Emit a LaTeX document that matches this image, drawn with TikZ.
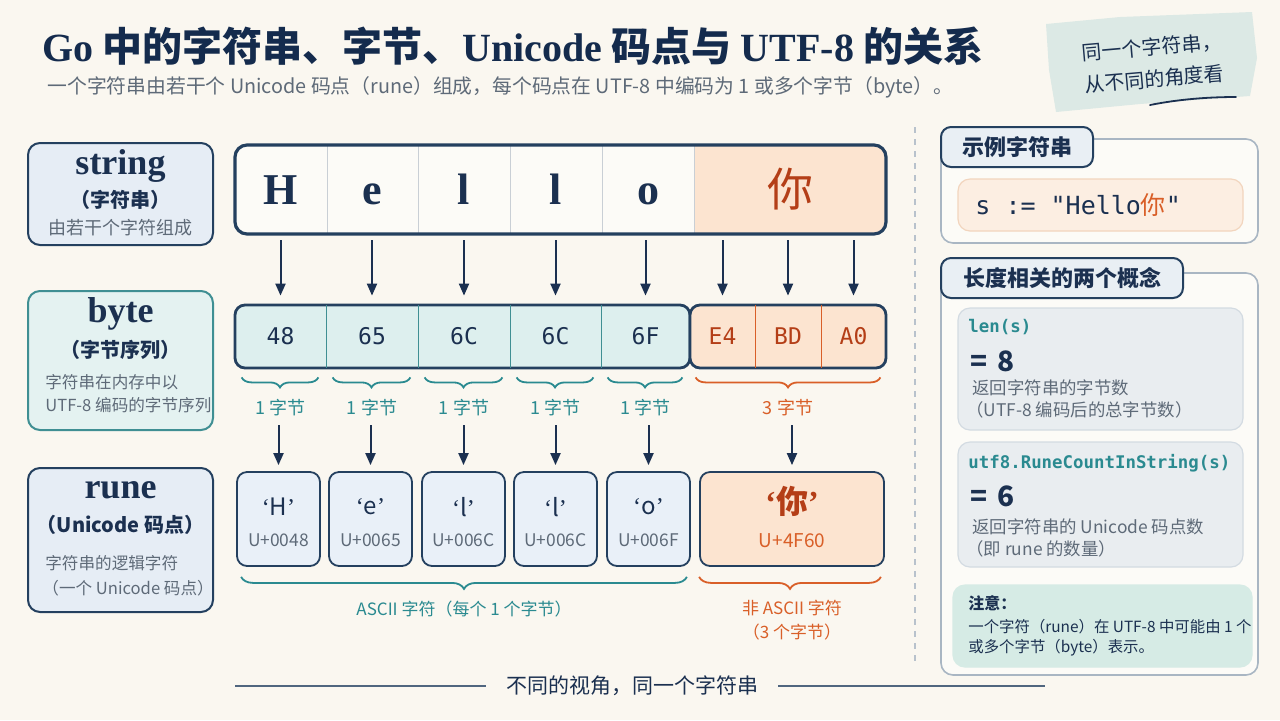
\documentclass[tikz,border=0pt]{standalone}
\usepackage{fontspec}
\setmainfont{Noto Sans CJK SC}
\newfontfamily\cjk{Noto Sans CJK SC}
\newfontfamily\seriff{Liberation Serif}
\newfontfamily\monof{DejaVu Sans Mono}
\usetikzlibrary{arrows.meta,positioning,decorations.pathreplacing,calc}
\definecolor{bgcream}{HTML}{FAF7F0}
\definecolor{titlec}{HTML}{142B4D}
\definecolor{navy}{HTML}{1B3050}
\definecolor{navyline}{HTML}{24405F}
\definecolor{graytxt}{HTML}{5E6A78}
\definecolor{tealc}{HTML}{2A8A90}
\definecolor{tealline}{HTML}{3F8F93}
\definecolor{tealfill}{HTML}{DDEFEE}
\definecolor{bluefill}{HTML}{E6EDF5}
\definecolor{runefill}{HTML}{E9F0F8}
\definecolor{orangec}{HTML}{D95F28}
\definecolor{nired}{HTML}{B43E17}
\definecolor{orangefill}{HTML}{FCE4D0}
\definecolor{cellfill}{HTML}{FCFBF7}
\definecolor{divgray}{HTML}{C9CFD5}
\definecolor{panelline}{HTML}{A9B6C3}
\definecolor{tabfill}{HTML}{E9EFF4}
\definecolor{cardfill}{HTML}{E9EDF0}
\definecolor{cardline}{HTML}{D3DBE2}
\definecolor{codefill}{HTML}{FCEEE2}
\definecolor{codeline}{HTML}{F2D5BE}
\definecolor{notefill}{HTML}{D6EBE5}
\definecolor{notebg}{HTML}{DCE9E5}
\definecolor{sepgray}{HTML}{B8C2CC}
\newcommand\fsz[2]{\fontsize{#1}{#2}\selectfont}
\newcommand\qt[1]{{\seriff ‘}#1{\seriff ’}}

\begin{document}
\begin{tikzpicture}[x=0.5pt, y=-0.5pt, every node/.style={inner sep=0pt, text=navy},
  lbl/.style={rounded corners=6pt, line width=1pt, minimum width=92.5pt},
  cell/.style={minimum height=44.5pt},
  bcell/.style={minimum height=31.5pt, font=\monof\fsz{11.5}{13}},
  rbox/.style={draw=navyline, fill=runefill, line width=0.9pt, rounded corners=5pt, minimum height=47pt},
  arr/.style={-{Triangle[length=6pt,width=5pt]}, draw=navy, line width=1pt},
  brc/.style={decorate, decoration={brace, mirror, amplitude=5pt}, line width=0.9pt},
  tab/.style={draw=navyline, fill=tabfill, line width=1pt, rounded corners=5pt, minimum height=20pt, font=\bfseries\fsz{11}{13}},
  panel/.style={draw=panelline, line width=0.8pt, rounded corners=6pt, fill=cellfill},
  card/.style={draw=cardline, fill=cardfill, line width=0.6pt, rounded corners=6pt},
  desc/.style={anchor=west, text=graytxt, font=\fsz{8.3}{10}}]
\fill[bgcream] (0,0) rectangle (1280,720);
\useasboundingbox (0,0) rectangle (1280,720);

% title
\node[anchor=west, text=titlec, font=\bfseries\fsz{20}{24}] (title) at (42,46)
  {{\seriff Go} 中的字符串、字节、{\seriff Unicode} 码点与 {\seriff UTF-8} 的关系};
\node[anchor=west, text=graytxt, font=\fsz{9.9}{12}] (sub) at (47,87)
  {一个字符串由若干个 Unicode 码点（rune）组成，每个码点在 UTF-8 中编码为 1 或多个字节（byte）。};

% note top right
\fill[notebg] (1046,24) -- (1120,17) -- (1252,12) -- (1257,58) -- (1250,96) -- (1140,104) -- (1056,112) -- (1049,70) -- cycle;
\node[rotate=5, align=left, font=\fsz{10}{16}] (note) at (1153,63) {同一个字符串，\\从不同的角度看};
\draw[navy, line width=0.9pt, line cap=round] (1150,105) .. controls (1180,99) and (1210,97) .. (1236,97);

\draw[sepgray, dashed, line width=0.8pt] (915,127) -- (915,665);

% left labels
\node[lbl, draw=navyline, fill=bluefill, minimum height=51pt] (lstr) at (120.5,194) {};
\node[font=\seriff\bfseries\fsz{18}{20}] (lstr1) at (120.5,166) {string};
\node[font=\bfseries\fsz{10}{12}] (lstr2) at (120.5,200) {（字符串）};
\node[text=graytxt, font=\fsz{9}{11}] (lstr3) at (120.5,228) {由若干个字符组成};

\node[lbl, draw=tealline, fill=tealfill!80!white, minimum height=69.5pt] (lbyte) at (120.5,360.5) {};
\node[font=\seriff\bfseries\fsz{18}{20}] (lbyte1) at (120.5,314) {byte};
\node[font=\bfseries\fsz{10}{12}] (lbyte2) at (120.5,350) {（字节序列）};
\node[desc] (lbyte3) at (45,382) {字符串在内存中以};
\node[desc] (lbyte4) at (45,405) {UTF-8 编码的字节序列};

\node[lbl, draw=navyline, fill=bluefill, minimum height=72pt] (lrune) at (120.5,540) {};
\node[font=\seriff\bfseries\fsz{18}{20}] (lrune1) at (120.5,490) {rune};
\node[font=\bfseries\fsz{10}{12}] (lrune2) at (120.5,525) {（Unicode 码点）};
\node[desc] (lrune3) at (45,563) {字符串的逻辑字符};
\node[desc] (lrune4) at (42,588) {（一个 Unicode 码点）};

% string row
\fill[cellfill, rounded corners=6pt] (235,145) rectangle (886,234);
\begin{scope}
  \clip[rounded corners=6pt] (235,145) rectangle (886,234);
  \fill[orangefill] (694,145) rectangle (886,234);
\end{scope}
\foreach \n/\x/\w/\c in {1/281/92/H, 2/372.5/91/e, 3/464/92/l, 4/556/92/l, 5/648/92/o}
  \node[cell, minimum width=\w*0.5pt, text height=14.5pt, text depth=0pt, font=\seriff\bfseries\fsz{22}{24}] (s\n) at (\x,189.5) {\c};
\node[cell, minimum width=96pt, text=nired, font=\fsz{23}{25}] (s6) at (790,189.5) {你};
\foreach \n in {1,...,5}
  \draw[divgray, line width=0.7pt] (s\n.north east) -- (s\n.south east);
\draw[navyline, line width=1.6pt, rounded corners=6pt] (235,145) rectangle (886,234);

% byte row
\draw[navyline, line width=1.4pt, rounded corners=5pt, fill=tealfill] (235,305) rectangle (690,368);
\draw[navyline, line width=1.4pt, rounded corners=5pt, fill=orangefill] (690,305) rectangle (886,368);
\foreach \n/\x/\w/\t in {1/280.5/91/48, 2/372/92/65, 3/464/92/6C, 4/555.5/91/6C, 5/645.5/89/6F}
  \node[bcell, minimum width=\w*0.5pt] (b\n) at (\x,336.5) {\t};
\foreach \n/\x/\w/\t in {6/722.5/65/E4, 7/788/66/BD, 8/853.5/65/A0}
  \node[bcell, minimum width=\w*0.5pt, text=nired] (b\n) at (\x,336.5) {\t};
\foreach \n in {1,...,4}
  \draw[tealline, line width=0.8pt] (b\n.north east) -- (b\n.south east);
\foreach \n in {6,7}
  \draw[orangec, line width=0.8pt] (b\n.north east) -- (b\n.south east);

% string -> byte
\foreach \n in {1,...,5}
  \draw[arr, shorten <=3pt, shorten >=4.5pt] (s\n.south -| b\n.north) -- (b\n.north);
\foreach \n in {6,7,8}
  \draw[arr, shorten <=3pt, shorten >=4.5pt] (s6.south -| b\n.north) -- (b\n.north);

% byte braces
\foreach \n in {1,...,5} {
  \draw[brc, tealc] ([xshift=3.5pt,yshift=-4.5pt]b\n.south west) -- ([xshift=-4pt,yshift=-4.5pt]b\n.south east);
  \node[text=tealc, font=\fsz{9}{11}] (n\n) at ($(b\n.south)+(0,39)$) {1 字节};
}
\draw[brc, orangec] ([xshift=3pt,yshift=-4.5pt]b6.south west) -- ([xshift=-3pt,yshift=-4.5pt]b8.south east);
\node[text=orangec, font=\fsz{9}{11}] (n6) at ($(b7.south)+(0,39)$) {3 字节};

% rune boxes
\foreach \n/\x/\c/\u in {1/278.5/H/0048, 2/370.5/e/0065, 3/463.5/l/006C, 4/555.5/l/006C, 5/648.5/o/006F} {
  \node[rbox, minimum width=41.5pt] (r\n) at (\x,519) {};
  \node[font=\fsz{12}{13}] (rc\n) at (\x,507) {\qt{\c}};
  \node[text=graytxt, font=\fsz{8.7}{10}] (ru\n) at (\x,540) {U+\u};
}
\node[rbox, fill=orangefill, minimum width=92pt] (r6) at (792,519) {};
\node[text=nired, font=\bfseries\fsz{16}{18}] (rc6) at (792,501) {\qt{你}};
\node[text=orangec, font=\fsz{9.5}{11}] (ru6) at (792,541) {U+4F60};

\foreach \n in {1,...,6}
  \draw[arr, shorten <=4.5pt, shorten >=3pt] (r\n.north |- n\n.south) -- (r\n.north);

% rune braces
\draw[brc, tealc, decoration={amplitude=6pt}] ([xshift=2.5pt,yshift=-5pt]r1.south west) -- ([xshift=-2pt,yshift=-5pt]r5.south east);
\node[text=tealc, font=\fsz{8.5}{10}] (ascii) at (464,609) {ASCII 字符（每个 1 个字节）};
\draw[brc, orangec, decoration={amplitude=6pt}] ([yshift=-5pt]r6.south west) -- ([xshift=-2pt,yshift=-5pt]r6.south east);
\node[text=orangec, font=\fsz{8.5}{10}] (nascii1) at (792,608) {非 ASCII 字符};
\node[text=orangec, font=\fsz{8.5}{10}] (nascii2) at (792,632) {（3 个字节）};

% bottom line
\node[font=\fsz{10.5}{12}, inner xsep=10pt] (foot) at (632,686) {不同的视角，同一个字符串};
\coordinate (fl) at (235,686);
\coordinate (fr) at (1045,686);
\draw[navyline!80, line width=0.9pt] (fl) -- (foot.west);
\draw[navyline!80, line width=0.9pt] (foot.east) -- (fr);

% right panels
\draw[panel] (941,139) rectangle (1258,243);
\node[tab, minimum width=76pt] (tab1) at (1017,147) {示例字符串};
\node[card, draw=codeline, fill=codefill, minimum width=142.5pt, minimum height=26pt] (code) at (1100.5,205) {};
\node[anchor=west, font=\monof\fsz{12.5}{14}] (codet) at (975,205) {s := "Hello{\cjk\color{orangec}你}"};

\draw[panel] (941,273) rectangle (1258,675);
\node[tab, minimum width=121pt] (tab2) at (1062,278) {长度相关的两个概念};

\node[card, minimum width=142.5pt, minimum height=61pt] (c1) at (1100.5,369) {};
\node[anchor=west, text=tealc, font=\monof\bfseries\fsz{8.7}{10}] (len) at (968,327) {len(s)};
\node[anchor=west, font=\bfseries\fsz{14}{16}] (len8) at (970,361) {=\hspace{5pt}8};
\node[desc, font=\fsz{8.7}{10}] (lend1) at (972,388) {返回字符串的字节数};
\node[desc, font=\fsz{8.7}{10}] (lend2) at (966,410) {（UTF-8 编码后的总字节数）};

\node[card, minimum width=142.5pt, minimum height=62.5pt] (c2) at (1100.5,504.5) {};
\node[anchor=west, text=tealc, font=\monof\bfseries\fsz{8.7}{10}] (cnt) at (968,463) {utf8.RuneCountInString(s)};
\node[anchor=west, font=\bfseries\fsz{14}{16}] (cnt6) at (970,496) {=\hspace{5pt}6};
\node[desc, font=\fsz{8.7}{10}] (cntd1) at (972,527) {返回字符串的 Unicode 码点数};
\node[desc, font=\fsz{8.7}{10}] (cntd2) at (966,549) {（即 rune 的数量）};

\node[card, draw=notefill, fill=notefill, minimum width=149.5pt, minimum height=41pt] (warn) at (1102.5,626) {};
\node[anchor=west, font=\bfseries\fsz{8}{10}] (warn1) at (968,603) {注意：};
\node[anchor=west, font=\fsz{7.7}{10}] (warn2) at (968,627) {一个字符（rune）在 UTF-8 中可能由 1 个};
\node[anchor=west, font=\fsz{7.7}{10}] (warn3) at (968,648) {或多个字节（byte）表示。};
\end{tikzpicture}
\end{document}
